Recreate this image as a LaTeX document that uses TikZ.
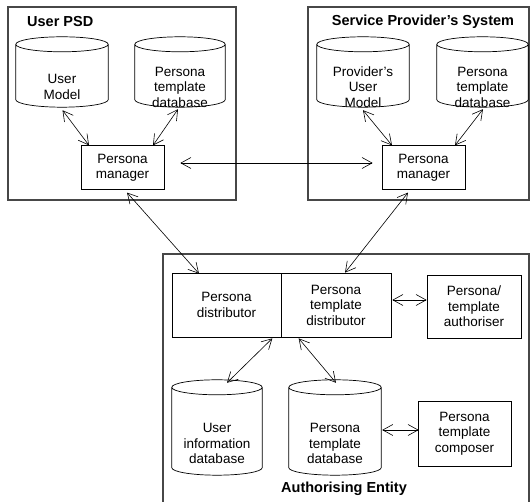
\documentclass[tikz,border=0pt]{standalone}
\usepackage{fontspec}
\setmainfont{Liberation Sans}
\usetikzlibrary{arrows.meta,calc}

\newcommand\diagtext{\fontsize{13.5}{15.5}\selectfont}
\newcommand\diagtitle{\fontsize{14.5}{16}\selectfont\bfseries}

% outline of a database drum around the node #1
\newcommand\dbdraw[1]{%
  \draw[dbline] let \p1=(#1.north west), \p2=(#1.south east),
      \n1={(\x2-\x1)/2} in
    ({\x1+\n1*1pt},{\y1-7.5pt}) ellipse[x radius={\n1*1pt}, y radius=7.5pt]
    (\x1,{\y1-7.5pt}) -- (\x1,{\y2+7.5pt})
    arc[start angle=180, end angle=360, x radius={\n1*1pt}, y radius=7.5pt]
    -- (\x2,{\y1-7.5pt});}

\begin{document}
\begin{tikzpicture}[x=1pt,y=1pt,
  frame/.style={draw=black!72, line width=1.1pt, inner sep=0pt},
  title/.style={font=\diagtitle, inner sep=0pt},
  box/.style={draw, line width=0.7pt, align=center, inner sep=0pt, font=\diagtext},
  dbbody/.style={inner sep=0pt},
  dbline/.style={line width=0.7pt},
  dbtext/.style={align=center, inner sep=0pt, font=\diagtext},
  link/.style={line width=0.6pt, {Straight Barb[length=10pt,width=11pt]}-{Straight Barb[length=10pt,width=11pt]}}
]
\useasboundingbox (0,0) rectangle (531,502);

% the three systems
\node[frame, minimum width=228pt, minimum height=193pt] (psd) at (122,398.5) {};
\node[frame, minimum width=221pt, minimum height=193pt] (sps) at (418.5,398.5) {};
\coordinate (aeA) at (163,0);
\coordinate (aeB) at (529,0);
\draw[draw=black!72, line width=1.1pt] (aeA) |- (529,248) -- (aeB);

\node[title, anchor=west] (psdtitle) at (27,480) {User PSD};
\node[title] (spstitle) at (423,480) {Service Provider's System};
\node[title] (aetitle) at (344,13) {Authorising Entity};

% databases
\node[dbbody, minimum width=92pt, minimum height=70pt] (um) at (62,430) {};
\node[dbtext] (umt) at ([yshift=-15pt]um.center) {User\\Model};
\node[dbbody, minimum width=90pt, minimum height=70pt] (ptdba) at (180,430) {};
\node[dbtext] (ptdbat) at ([yshift=-15pt]ptdba.center) {Persona\\template\\database};
\node[dbbody, minimum width=92pt, minimum height=70pt] (pum) at (363,430) {};
\node[dbtext] (pumt) at ([yshift=-15pt]pum.center) {Provider's\\User\\Model};
\node[dbbody, minimum width=91pt, minimum height=70pt] (ptdbb) at (482.5,430) {};
\node[dbtext] (ptdbbt) at ([yshift=-15pt]ptdbb.center) {Persona\\template\\database};
\node[dbbody, minimum width=90pt, minimum height=95pt] (uidb) at (217,74.5) {};
\node[dbtext] (uidbt) at ([yshift=-16pt]uidb.center) {User\\information\\database};
\node[dbbody, minimum width=92pt, minimum height=95pt] (ptdbc) at (335,74.5) {};
\node[dbtext] (ptdbct) at ([yshift=-16pt]ptdbc.center) {Persona\\template\\database};
\foreach \d in {um,ptdba,pum,ptdbb,uidb,ptdbc} {\dbdraw{\d}}

% components
\node[box, minimum width=83pt, minimum height=44pt] (pma) at (122.5,334.25) {Persona\\manager};
\node[box, minimum width=83pt, minimum height=44pt] (pmb) at (423.5,334.25) {Persona\\manager};
\node[box, minimum width=109pt, minimum height=64pt] (pd) at (226.5,197) {Persona\\distributor};
\node[box, minimum width=110pt, minimum height=64pt] (ptd) at (336,197) {Persona\\template\\distributor};
\node[box, minimum width=94pt, minimum height=63pt] (auth) at (474,195.5) {Persona/\\template\\authoriser};
\node[box, minimum width=93pt, minimum height=65pt] (ptc) at (464.5,68.5) {Persona\\template\\composer};

% connectors
\draw[link] ([shift={(0.5,-3)}]um.south) -- ([xshift=-33.5pt]pma.north);
\draw[link] ([shift={(-2,-2)}]ptdba.south) -- ([xshift=30.5pt]pma.north);
\draw[link] ([yshift=-3pt]pum.south) -- ([xshift=-31.5pt]pmb.north);
\draw[link] ([shift={(0.5,-2)}]ptdbb.south) -- ([xshift=31.5pt]pmb.north);
\draw[link] ([shift={(16,4.75)}]pma.east) -- ([shift={(-9,4.75)}]pmb.west);
\draw[link] ([shift={(4.5,-2.5)}]pma.south) -- ([shift={(-27.5,-1)}]pd.north);
\draw[link] ([shift={(-15.5,-2.5)}]pmb.south) -- ([xshift=9pt]ptd.north);
\draw[link] ([shift={(1,5)}]ptd.east) -- ([yshift=6.5pt]auth.west);
\draw[link] ([shift={(-9,-1)}]pd.south east) -- ([shift={(10,-3)}]uidb.north);
\draw[link] ([shift={(18,-1)}]ptd.south west) -- ([shift={(1,-3)}]ptdbc.north);
\draw[link] ([shift={(1,-2.5)}]ptdbc.east) -- ([shift={(1,3.5)}]ptc.west);
\end{tikzpicture}
\end{document}
